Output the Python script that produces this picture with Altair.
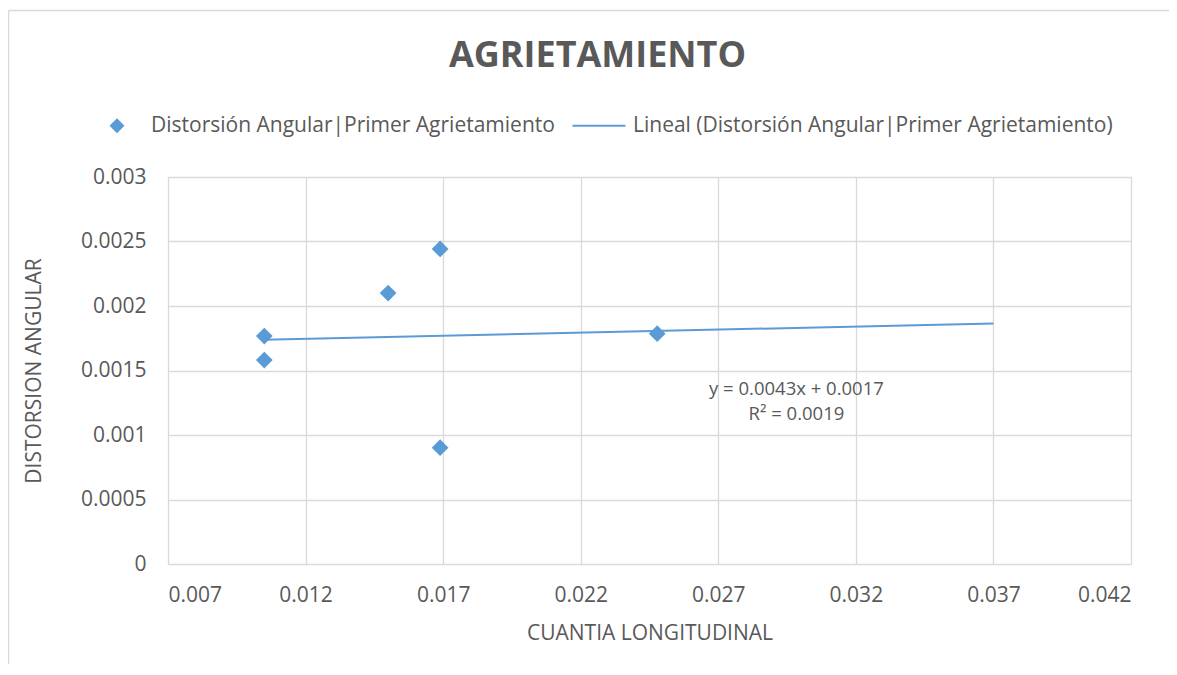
import altair as alt
import pandas as pd

# ---- data ----
cuantia = [0.0105, 0.0105, 0.0150, 0.01689, 0.01689, 0.02478]
distorsion = [0.001767, 0.001581, 0.00210, 0.002442, 0.000902, 0.001785]
serie_puntos = "Distorsión Angular|Primer Agrietamiento"
serie_linea = "Lineal (Distorsión Angular|Primer Agrietamiento)"
x_ticks = [0.007, 0.012, 0.017, 0.022, 0.027, 0.032, 0.037, 0.042]
y_ticks = [0, 0.0005, 0.001, 0.0015, 0.002, 0.0025, 0.003]
trend_extent = [0.0105, 0.037]
eq_text = ["y = 0.0043x + 0.0017", "R² = 0.0019"]
eq_x = [0.02984, 0.02984]
eq_y = [0.001359, 0.001165]

BLUE = "#5B9BD5"
GREY = "#595959"
GRID = "#D9D9D9"
FONT = "Open Sans"

df = pd.DataFrame({"cuantia": cuantia, "distorsion": distorsion,
                   "serie": [serie_puntos] * len(cuantia)})
eq_df = pd.DataFrame({"x": eq_x, "y": eq_y, "t": eq_text})

xscale = alt.Scale(domain=[0.007, 0.042], nice=False, zero=False)
yscale = alt.Scale(domain=[0, 0.003], nice=False)

xaxis = alt.Axis(values=x_ticks, format="~g", grid=True, gridColor=GRID, gridWidth=1.3,
                 domain=False, ticks=False, labelFont=FONT, labelFontSize=21,
                 labelColor=GREY, labelPadding=20, title="CUANTIA LONGITUDINAL",
                 titleFont=FONT, titleFontSize=21, titleFontWeight="normal",
                 titleColor=GREY, titlePadding=17)
yaxis = alt.Axis(values=y_ticks, format="~g", grid=True, gridColor=GRID, gridWidth=1.3,
                 domain=False, ticks=False, labelFont=FONT, labelFontSize=21,
                 labelColor=GREY, labelPadding=22, title="DISTORSION ANGULAR",
                 titleFont=FONT, titleFontSize=21, titleFontWeight="normal",
                 titleColor=GREY, titlePadding=36)

points = alt.Chart(df).mark_point(filled=True, opacity=1, size=280, color=BLUE).encode(
    x=alt.X("cuantia:Q", scale=xscale, axis=xaxis),
    y=alt.Y("distorsion:Q", scale=yscale, axis=yaxis),
    shape=alt.Shape("serie:N",
                    scale=alt.Scale(domain=[serie_puntos, serie_linea],
                                    range=["diamond",
                                           "M-3.53,-0.13L3.53,-0.13L3.53,0.13L-3.53,0.13Z"]),
                    legend=alt.Legend(orient="none", legendX=-61.5, legendY=-62,
                                      direction="horizontal", title=None,
                                      labelFont=FONT, labelFontSize=21, labelColor=GREY,
                                      symbolSize=225, symbolFillColor=BLUE,
                                      symbolStrokeWidth=0,
                                      labelOffset=23.5, columnPadding=17, labelLimit=700)),
)

trend = alt.Chart(df).transform_regression(
    "cuantia", "distorsion", method="linear", extent=trend_extent
).mark_line(color=BLUE, strokeWidth=2).encode(
    x=alt.X("cuantia:Q", scale=xscale),
    y=alt.Y("distorsion:Q", scale=yscale),
)

eq = alt.Chart(eq_df).mark_text(font=FONT, fontSize=18.5, color=GREY, align="center",
                                baseline="middle").encode(
    x=alt.X("x:Q", scale=xscale), y=alt.Y("y:Q", scale=yscale), text="t:N")

frame_df = pd.DataFrame({"a": [0]})
border_left = alt.Chart(frame_df).mark_rule(color=GRID, strokeWidth=1.5).encode(
    x=alt.value(-159.5), y=alt.value(-166.5), y2=alt.value(520))
border_top = alt.Chart(frame_df).mark_rule(color=GRID, strokeWidth=1.5).encode(
    x=alt.value(-159.5), x2=alt.value(1020), y=alt.value(-166.5))

chart = alt.layer(border_left, border_top, trend, points, eq).properties(
    width=963, height=387,
    padding={"left": 160, "top": 169, "right": 38, "bottom": 100},
    autosize=alt.AutoSizeParams(type="none"),
    title=alt.TitleParams(text="AGRIETAMIENTO", font=FONT, fontSize=36,
                          fontWeight="bold", color=GREY, anchor="middle",
                          baseline="alphabetic", offset=0, dx=-52, dy=93),
).configure_view(stroke="transparent")

chart.save("out.html", embed_options={"renderer": "svg", "actions": False})
